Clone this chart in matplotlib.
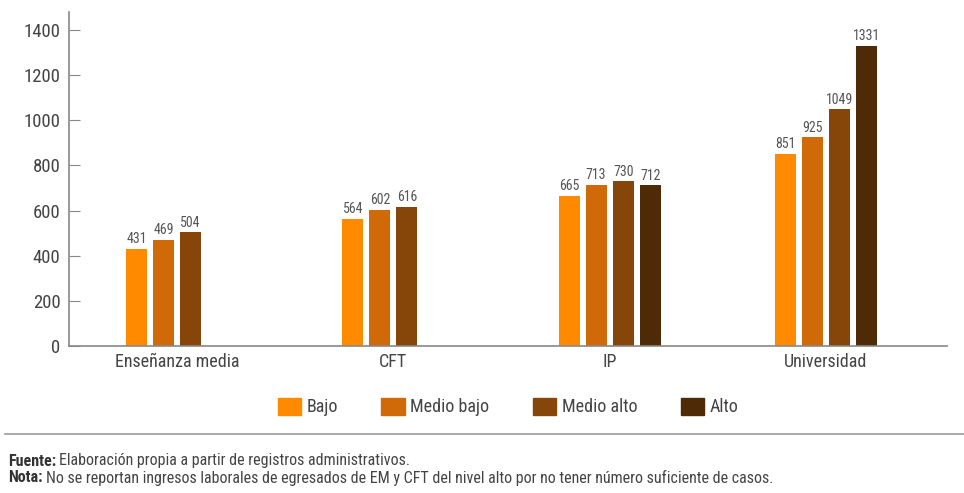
import matplotlib
matplotlib.use("Agg")
import matplotlib.pyplot as plt
import numpy as np
from matplotlib import font_manager as fm
from matplotlib.patches import Patch

categories = ["Enseñanza media", "CFT", "IP", "Universidad"]
series = ["Bajo", "Medio bajo", "Medio alto", "Alto"]
bajo = [431, 564, 665, 851]
medio_bajo = [469, 602, 713, 925]
medio_alto = [504, 616, 730, 1049]
alto = [np.nan, np.nan, 712, 1331]
colors = ["#FF8A00", "#D06A08", "#86460A", "#4E2A06"]
yticks = [0, 200, 400, 600, 800, 1000, 1200, 1400]

fonts = fm.fontManager.ttflist
names = {f.name for f in fonts}
stretch = "normal"
fam = "Liberation Sans"
for cand in ["Liberation Sans Narrow", "Roboto Condensed", "Open Sans Condensed",
             "DejaVu Sans Condensed"]:
    if cand in names:
        fam = cand
        break
else:
    if any(f.name == "DejaVu Sans" and f.stretch == "condensed" for f in fonts):
        fam = "DejaVu Sans"
        stretch = "condensed"
plt.rcParams["font.family"] = [fam, "DejaVu Sans"]
plt.rcParams["font.stretch"] = stretch

fig = plt.figure(figsize=(9.64, 4.93), dpi=100)
ax = fig.add_axes([69/964, 1-346/493, (947-69)/964, (346-12)/493])

x = np.arange(len(categories))
w = 0.097
pitch = 0.125
vals = [bajo, medio_bajo, medio_alto, alto]
txtc = "#555555"
for i, (s, v, c) in enumerate(zip(series, vals, colors)):
    pos = x + (i - 1.5) * pitch
    ax.bar(pos, v, width=w, color=c, label=s)
    for p, val in zip(pos, v):
        if not np.isnan(val):
            ax.text(p, val + 12, f"{int(val)}", ha="center", va="bottom",
                    fontsize=10, color=txtc)

ax.set_xlim(-0.5, 3.56)
ax.set_ylim(0, 1480)
ax.set_yticks(yticks)
ax.set_yticklabels([str(t) for t in yticks], fontsize=13.5, color="#444444")
ax.set_xticks(x)
ax.set_xticklabels(categories, fontsize=13, color="#444444")
ax.tick_params(axis="x", length=0, pad=5)
ax.tick_params(axis="y", direction="in", length=8, color="#888888", pad=6)
for sp in ["top", "right"]:
    ax.spines[sp].set_visible(False)
for sp in ["left", "bottom"]:
    ax.spines[sp].set_color("#888888")
    ax.spines[sp].set_linewidth(1.2)

handles = [Patch(color=c) for c in colors]
fig.legend(handles, series, loc="center", bbox_to_anchor=(0.527, 1-407/493),
           ncol=4, frameon=False, fontsize=13, handlelength=1.3, handleheight=1.1,
           handletextpad=0.3, columnspacing=2.4, labelcolor="#444444")

fig.add_artist(plt.Line2D([5/964, 1], [1-434/493]*2, color="#999999", lw=1.2,
                          transform=fig.transFigure))

def mixed(y, bold, rest):
    t1 = fig.text(8/964, y, bold, fontsize=11.5, fontweight="bold", color="#333333", va="center")
    fig.canvas.draw()
    bb = t1.get_window_extent()
    x2 = bb.x1 / fig.bbox.width + 3/964
    fig.text(x2, y, rest, fontsize=11.5, color="#444444", va="center")

mixed(1-461/493, "Fuente:", "Elaboración propia a partir de registros administrativos.")
mixed(1-478/493, "Nota:", "No se reportan ingresos laborales de egresados de EM y CFT del nivel alto por no tener número suficiente de casos.")

fig.savefig("out.png", dpi=100)
